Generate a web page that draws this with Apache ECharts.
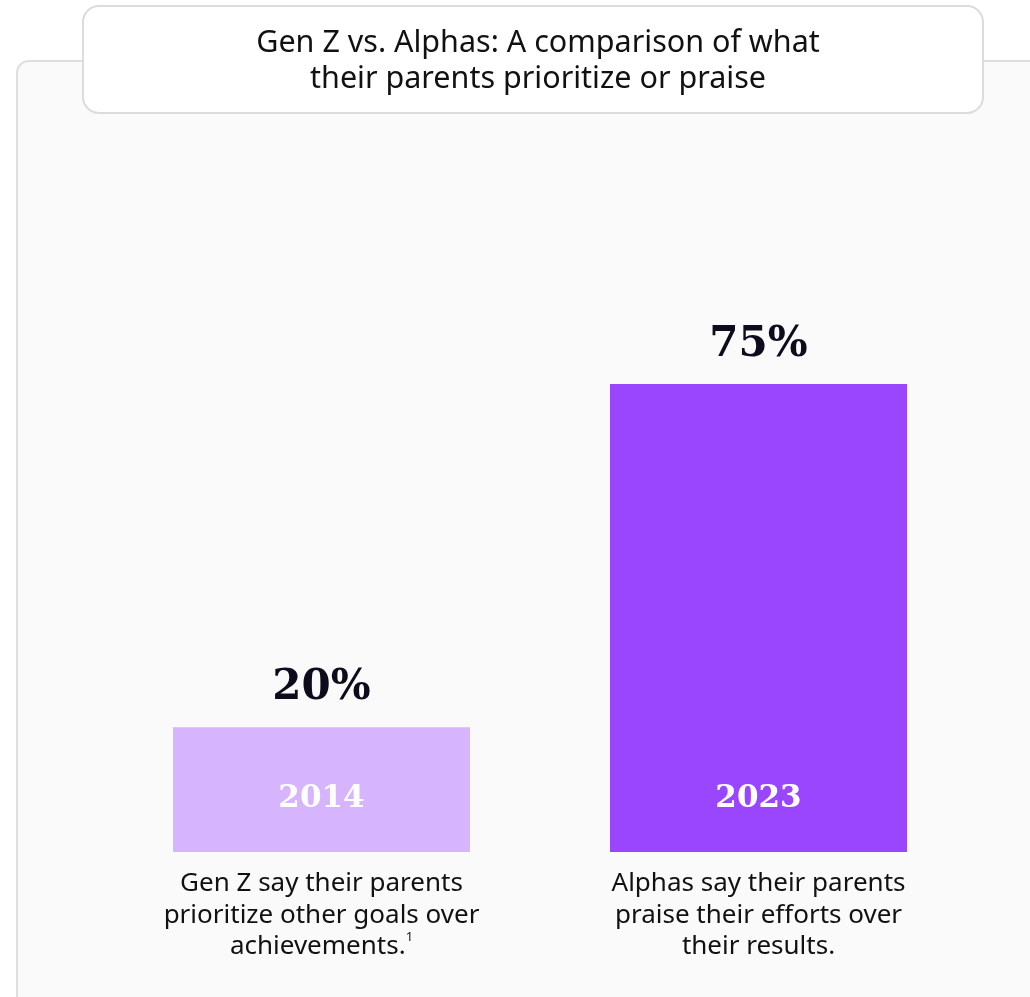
<!DOCTYPE html>
<html>
<head>
<meta charset="utf-8">
<script src="https://cdn.jsdelivr.net/npm/echarts@6/dist/echarts.min.js"></script>
<style>
  html, body { margin: 0; padding: 0; background: #ffffff; }
  #chart { width: 1030px; height: 997px; }
</style>
</head>
<body>
<div id="chart"></div>
<script>
// Survey years, one bar per generation
const years = ['2014', '2023'];
// Share of respondents (%)
const shares = [20, 75];
// Statement shown under each bar
const statements = [
  'Gen Z say their parents\nprioritize other goals over\nachievements.{sup|1}',
  'Alphas say their parents\npraise their efforts over\ntheir results.'
];
const barColors = ['#d6b4fe', '#9a46ff'];
const titleLines = ['Gen Z vs. Alphas: A comparison of what', 'their parents prioritize or praise'];

const sansFont = '"Noto Sans", Lato, sans-serif';
const serifFont = '"DejaVu Serif", "Liberation Serif", serif';

const chart = echarts.init(document.getElementById('chart'), null, { renderer: 'canvas' });

chart.setOption({
  backgroundColor: '#ffffff',
  animation: false,
  graphic: [
    {
      type: 'rect', z: -10,
      shape: { x: 17, y: 61, width: 1100, height: 1000, r: 12 },
      style: { fill: '#fafafa', stroke: '#dedede', lineWidth: 2 }
    },
    {
      type: 'rect', z: -5,
      shape: { x: 83, y: 6, width: 900, height: 107, r: 16 },
      style: { fill: '#ffffff', stroke: '#dcdcdc', lineWidth: 2 }
    }
  ],
  title: {
    text: titleLines.join('\n'),
    left: 533,
    top: 20,
    textAlign: 'center',
    textStyle: {
      fontFamily: sansFont,
      fontWeight: 'normal',
      fontSize: 30.5,
      lineHeight: 36,
      color: '#111111'
    }
  },
  grid: { left: 103, right: 53, top: 228, bottom: 145 },
  xAxis: {
    type: 'category',
    data: years,
    axisLine: { show: false },
    axisTick: { show: false },
    axisLabel: {
      margin: 16,
      interval: 0,
      formatter: (v, i) => statements[i],
      fontFamily: sansFont,
      fontSize: 26,
      lineHeight: 31.5,
      color: '#111111',
      rich: {
        sup: { fontFamily: sansFont, fontSize: 13, color: '#111111', verticalAlign: 'top', padding: [0, 0, 12, 0] }
      }
    }
  },
  yAxis: {
    type: 'value',
    min: 0,
    max: 100,
    show: false,
    splitLine: { show: false }
  },
  series: [
    {
      type: 'bar',
      barWidth: 297,
      data: shares.map((v, i) => ({ value: v, itemStyle: { color: barColors[i] } })),
      label: {
        show: true,
        position: 'insideBottom',
        distance: 38,
        formatter: (p) => years[p.dataIndex],
        fontFamily: serifFont,
        fontWeight: 'bold',
        fontSize: 31,
        color: '#ffffff'
      }
    },
    {
      type: 'bar',
      barWidth: 297,
      barGap: '-100%',
      silent: true,
      data: shares,
      itemStyle: { color: 'rgba(0,0,0,0)' },
      label: {
        show: true,
        position: 'top',
        distance: 18,
        formatter: (p) => p.value + '%',
        fontFamily: serifFont,
        fontWeight: 'bold',
        fontSize: 42,
        color: '#0d0b1c'
      }
    }
  ]
});
</script>
</body>
</html>
